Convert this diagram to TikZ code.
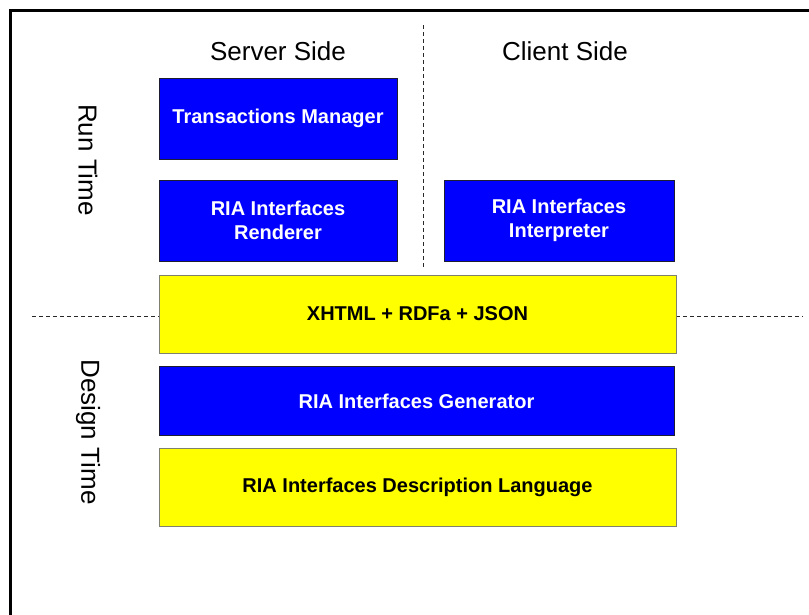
\documentclass[tikz,border=0pt]{standalone}
\usepackage{fontspec}
\setmainfont{Liberation Sans}
\begin{document}
\begin{tikzpicture}[x=1pt,y=-1pt,
  box/.style={rectangle, inner sep=0pt, line width=0.8pt, align=center,
    font=\fontsize{20}{24}\selectfont\bfseries},
  bluebox/.style={box, fill={rgb,255:red,0;green,0;blue,255}, draw={rgb,255:red,30;green,30;blue,50}, text=white},
  yellowbox/.style={box, fill={rgb,255:red,255;green,255;blue,0}, draw={rgb,255:red,128;green,128;blue,110}, text=black},
  header/.style={font=\fontsize{26}{30}\selectfont, text=black},
  divider/.style={draw={rgb,255:red,40;green,40;blue,40}, line width=0.8pt, dash pattern=on 4pt off 3pt}]
  % canvas
  \useasboundingbox (0,0) rectangle (809,614);
  \fill[white] (0,0) rectangle (809,614);
  % frame (top and left edges)
  \draw[line width=2.3pt, line cap=rect] (10.5,614) -- (10.5,10.5) -- (809,10.5);

  % dividers between the quadrants
  \coordinate (vtop) at (423.5,25);
  \coordinate (vbot) at (423.5,268);
  \coordinate (hleft) at (32,316.5);
  \coordinate (hright) at (803,316.5);
  \draw[divider] (vtop) -- (vbot);
  \draw[divider] (hleft) -- (hright);

  % column and row labels
  \node[header] (server) at (278,51) {Server Side};
  \node[header] (client) at (565,51) {Client Side};
  \node[header, rotate=-90] (runtime) at (88,160) {Run Time};
  \node[header, rotate=-90] (designtime) at (88,432) {Design Time};

  % run-time components
  \node[bluebox, minimum width=238pt, minimum height=81pt] (tm) at (278,118.5) {Transactions Manager};
  \node[bluebox, minimum width=238pt, minimum height=81pt] (rend) at (278,220.5) {RIA Interfaces\\Renderer};
  \node[bluebox, minimum width=230pt, minimum height=81pt] (interp) at (559,220.5) {RIA Interfaces\\Interpreter};

  % shared format
  \node[yellowbox, minimum width=517pt, minimum height=78pt] (fmt) at (417.5,314) {XHTML + RDFa + JSON};

  % design-time components
  \node[bluebox, minimum width=515pt, minimum height=69pt] (gen) at (416.5,401) {RIA Interfaces Generator};
  \node[yellowbox, minimum width=517pt, minimum height=78pt] (lang) at (417.5,487) {RIA Interfaces Description Language};
\end{tikzpicture}
\end{document}
